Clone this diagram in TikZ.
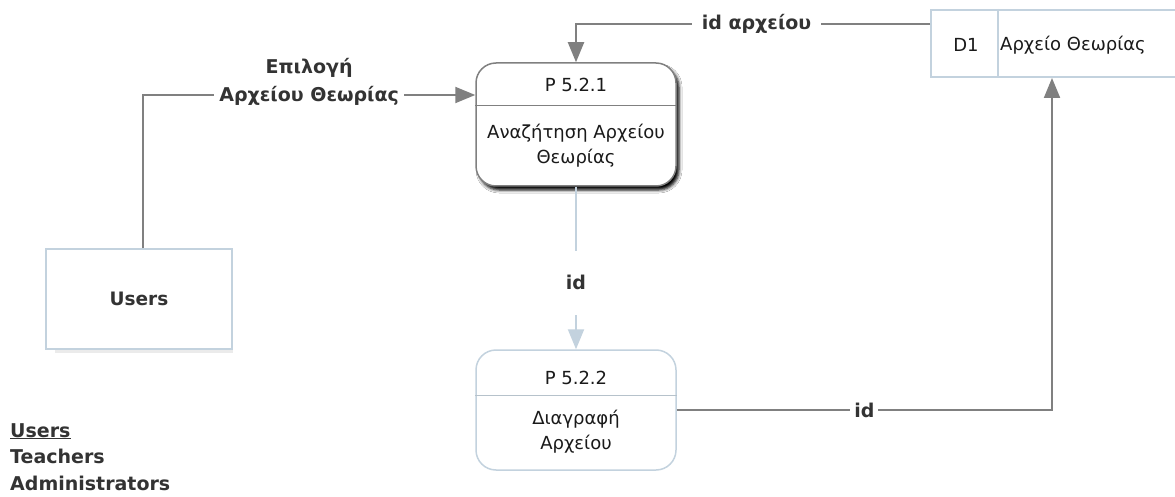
\documentclass[tikz,border=0pt]{standalone}
\usepackage{fontspec}
\setmainfont{DejaVu Sans}
\usetikzlibrary{arrows.meta,shadows.blur}

\definecolor{linegray}{HTML}{808080}
\definecolor{paleblue}{HTML}{C3D2DE}
\definecolor{labeltext}{HTML}{333333}
\definecolor{nodetext}{HTML}{1A1A1A}

\tikzset{
  process/.style={rectangle, rounded corners=20pt, minimum width=200pt,
    fill=white, line width=1.5pt, inner sep=0pt},
  ptext/.style={font=\fontsize{18}{25}\selectfont, text=nodetext, align=center, inner sep=0pt},
  entity/.style={rectangle, draw=paleblue, line width=1.5pt, fill=white,
    minimum width=186pt, minimum height=100pt, inner sep=0pt,
    font=\bfseries\fontsize{18.5}{22}\selectfont, text=labeltext},
  store/.style={rectangle, draw=paleblue, line width=2pt, fill=white,
    minimum width=259pt, minimum height=67pt, inner sep=0pt},
  flow/.style={draw=linegray, line width=2pt, -{Triangle[length=20pt,width=16pt]}},
  paleflow/.style={draw=paleblue, line width=2pt, -{Triangle[length=20pt,width=16pt]}},
  lbl/.style={fill=white, font=\bfseries\fontsize{19}{28}\selectfont, text=labeltext,
    align=center, inner ysep=2pt},
  legend/.style={anchor=base west, inner sep=0pt, text=labeltext,
    font=\bfseries\fontsize{19}{24}\selectfont},
}

\begin{document}
\begin{tikzpicture}[x=1pt, y=-1pt]
  \clip (0,0) rectangle (1175,497);
  \fill[white] (0,0) rectangle (1175,497);

  % external entity
  \fill[black!8] (55,346) rectangle (233,353);
  \node[entity] (users) at (139,299) {Users};

  % data store D1
  \node[store] (d1) at (1060.5,43.5) {};
  \draw[paleblue, line width=2pt] ([xshift=-62.5pt]d1.north) -- ([xshift=-62.5pt]d1.south);
  \node[ptext] (d1id) at (966,45) {D1};
  \node[ptext, anchor=west] (d1name) at (1000,45) {Αρχείο Θεωρίας};

  % process P 5.2.1
  \node[process, draw=linegray, minimum height=123pt,
        blur shadow={shadow xshift=3pt, shadow yshift=-4pt,
                     shadow blur radius=3pt, shadow opacity=100}] (p1) at (576,124.5) {};
  \draw[linegray, line width=1pt] ([yshift=18.5pt]p1.west) -- ([yshift=18.5pt]p1.east);
  \node[ptext] (p1id) at (576,85) {P 5.2.1};
  \node[ptext] (p1name) at (576,145.5) {Αναζήτηση Αρχείου\\Θεωρίας};

  % process P 5.2.2
  \node[process, draw=paleblue, minimum height=120pt] (p2) at (576,410) {};
  \draw[paleblue!80!gray, line width=1pt] ([yshift=15pt]p2.west) -- ([yshift=15pt]p2.east);
  \node[ptext] (p2id) at (576,378) {P 5.2.2};
  \node[ptext] (p2name) at (576,431.5) {Διαγραφή\\Αρχείου};

  % data flows
  \draw[flow] ([xshift=4pt]users.north) |-
    node[lbl, pos=0.75, yshift=13pt, inner xsep=5pt] (selLbl) {Επιλογή\\Αρχείου Θεωρίας}
    ([yshift=29.5pt]p1.west);
  \draw[flow] ([yshift=19.5pt]d1.west) -|
    node[lbl, pos=0.245, inner xsep=10pt] (fileIdLbl) {id αρχείου}
    (p1.north);
  \draw[paleflow] (p1.south) --
    node[lbl, pos=0.59, minimum height=64pt] (idLbl) {id}
    (p2.north);
  \draw[flow] (p2.east) -|
    node[lbl, pos=0.25, inner xsep=4pt] (delIdLbl) {id}
    ([xshift=-8.5pt]d1.south);

  % legend
  \node[legend] (lgUsers) at (10,437) {\underline{Users}};
  \node[legend] (lgTeachers) at (10,463) {Teachers};
  \node[legend] (lgAdmins) at (10,490) {Administrators};
\end{tikzpicture}
\end{document}
